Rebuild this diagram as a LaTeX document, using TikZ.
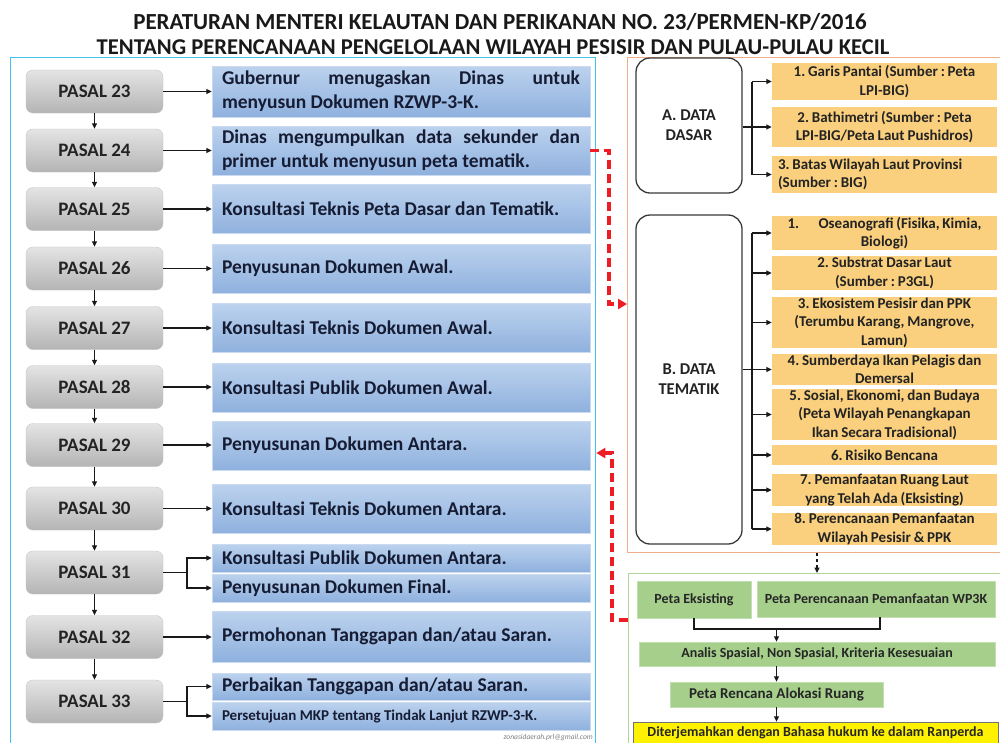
\documentclass[tikz,border=0pt]{standalone}
\usepackage{fontspec}
\setmainfont{Carlito}
\usetikzlibrary{arrows.meta,calc}
\definecolor{pasaltop}{HTML}{E4E4E4}
\definecolor{pasalbot}{HTML}{B4B4B4}
\definecolor{pasaledge}{HTML}{C4C4C4}
\definecolor{bluetop}{HTML}{BCD2EE}
\definecolor{bluebot}{HTML}{8FB1DE}
\definecolor{blueedge}{HTML}{CADAF0}
\definecolor{navy}{HTML}{161C33}
\definecolor{textdark}{HTML}{232323}
\definecolor{orangefill}{HTML}{FAD07E}
\definecolor{greenfill}{HTML}{A6CF8C}
\definecolor{greenedge}{HTML}{C3DFB0}
\definecolor{cyanframe}{HTML}{45C0EE}
\definecolor{salmonframe}{HTML}{F2AE8A}
\definecolor{greenframe}{HTML}{B3D599}
\definecolor{redline}{HTML}{EE1C24}
\definecolor{databorder}{HTML}{3A3A3A}
\frenchspacing
\begin{document}
\begin{tikzpicture}[x=1pt,y=-1pt,
  arr/.style={draw=black!90, line width=1.1pt, -{Triangle[length=5.5pt,width=5pt]}},
  plain/.style={draw=black!90, line width=1.1pt},
  pasal/.style={rounded corners=7pt, draw=pasaledge, top color=pasaltop, bottom color=pasalbot,
    minimum width=137pt, minimum height=43pt, inner sep=0pt, text=textdark,
    font=\bfseries\fontsize{19}{22}\selectfont},
  bluebox/.style={draw=blueedge, top color=bluetop, bottom color=bluebot,
    minimum width=378pt, text width=358pt, inner xsep=10pt, inner ysep=0pt,
    minimum height=49pt, align=justify, text=navy,
    font=\bfseries\fontsize{19.5}{24}\selectfont},
  bluesmall/.style={bluebox, minimum height=28pt},
  obox/.style={fill=orangefill, minimum width=225pt, text width=219pt, inner xsep=3pt,
    inner ysep=0.5pt, align=center, text=textdark,
    font=\bfseries\fontsize{15}{18.5}\selectfont,
    execute at begin node={\spaceskip=0.19em\relax}},
  databox/.style={draw=databorder, line width=1.3pt, rounded corners=14pt, fill=white,
    minimum width=106pt, align=center, text=textdark, inner sep=0pt,
    font=\bfseries\fontsize{16.5}{20}\selectfont},
  gbox/.style={fill=greenfill, draw=greenedge, inner sep=0pt, text=black!85,
    font=\bfseries\fontsize{14}{16}\selectfont},
  frame/.style={line width=1.3pt, anchor=north west, inner sep=0pt},
  reddash/.style={draw=redline, line width=3.4pt, dash pattern=on 9pt off 5pt,
    -{Triangle[length=9pt,width=10pt]}},
  titlestyle/.style={font=\bfseries\fontsize{23}{26}\selectfont, text=black!90, inner sep=0pt}
]
\useasboundingbox (0,0) rectangle (1000,742);
\fill[white] (0,0) rectangle (1000,742);

% titles
\node[titlestyle] (t1) at (500,22) {PERATURAN MENTERI KELAUTAN DAN PERIKANAN NO. 23/PERMEN-KP/2016};
\node[titlestyle, font=\bfseries\fontsize{22.6}{26}\selectfont] (t2) at (493,47) {TENTANG PERENCANAAN PENGELOLAAN WILAYAH PESISIR DAN PULAU-PULAU KECIL};

% frames
\node[frame, draw=cyanframe, minimum width=585pt, minimum height=692pt] (lf) at (10,57) {};
\node[frame, draw=salmonframe, minimum width=380pt, minimum height=495pt] (of) at (627,57) {};
\node[frame, draw=greenframe, minimum width=380pt, minimum height=175pt] (gf) at (628,573) {};

% PASAL boxes
\node[pasal] (p23) at (94.5,91.5) {PASAL 23};
\node[pasal] (p24) at (94.5,150.5) {PASAL 24};
\node[pasal] (p25) at (94.5,209) {PASAL 25};
\node[pasal] (p26) at (94.5,268.5) {PASAL 26};
\node[pasal] (p27) at (94.5,328) {PASAL 27};
\node[pasal] (p28) at (94.5,387) {PASAL 28};
\node[pasal] (p29) at (94.5,445) {PASAL 29};
\node[pasal] (p30) at (94.5,508.5) {PASAL 30};
\node[pasal] (p31) at (94.5,572.5) {PASAL 31};
\node[pasal] (p32) at (94.5,637) {PASAL 32};
\node[pasal] (p33) at (94.5,701.5) {PASAL 33};

% blue boxes
\node[bluebox, minimum height=51pt] (b1) at (401,91.5) {Gubernur menugaskan Dinas untuk\linebreak menyusun Dokumen RZWP-3-K.};
\node[bluebox] (b2) at (401,150.5) {Dinas mengumpulkan data sekunder dan\linebreak primer untuk menyusun peta tematik.};
\node[bluebox] (b3) at (401,209) {Konsultasi Teknis Peta Dasar dan Tematik.};
\node[bluebox] (b4) at (401,268.5) {Penyusunan Dokumen Awal.};
\node[bluebox] (b5) at (401,328) {Konsultasi Teknis Dokumen Awal.};
\node[bluebox] (b6) at (401,387.5) {Konsultasi Publik Dokumen Awal.};
\node[bluebox] (b7) at (401,445.5) {Penyusunan Dokumen Antara.};
\node[bluebox] (b8) at (401,508.5) {Konsultasi Teknis Dokumen Antara.};
\node[bluesmall] (b9a) at (401,558) {Konsultasi Publik Dokumen Antara.};
\node[bluesmall] (b9b) at (401,588) {Penyusunan Dokumen Final.};
\node[bluebox, minimum height=51pt] (b10) at (401,636.5) {Permohonan Tanggapan dan/atau Saran.};
\node[bluesmall, minimum height=27pt] (b11a) at (401,686.5) {Perbaikan Tanggapan dan/atau Saran.};
\node[bluesmall, font=\bfseries\fontsize{15}{18}\selectfont] (b11b) at (401,716) {Persetujuan MKP tentang Tindak Lanjut RZWP-3-K.};

\node[font=\itshape\fontsize{7.5}{8}\selectfont, text=gray, anchor=south east, inner sep=1pt] (wm) at (594,742) {zonasidaerah.prl@gmail.com};

% vertical arrows between PASAL boxes
\foreach \a/\b in {p23/p24,p24/p25,p25/p26,p26/p27,p27/p28,p28/p29,p29/p30,p30/p31,p31/p32,p32/p33}
  \draw[arr] (\a.south) -- (\b.north);

% horizontal arrows
\foreach \a/\b in {p23/b1,p24/b2,p25/b3,p26/b4,p27/b5,p28/b6,p29/b7,p30/b8,p32/b10}
  \draw[arr] (\a.east) -- (\a.east -| \b.west);

\coordinate (fk) at (187,0);
\draw[plain] (p31.east) -- (p31.east -| fk);
\draw[arr] (p31.east -| fk) |- (b9a.west);
\draw[arr] (p31.east -| fk) |- (b9b.west);
\draw[plain] (p33.east) -- (p33.east -| fk);
\draw[arr] (p33.east -| fk) |- (b11a.west);
\draw[arr] (p33.east -| fk) |- (b11b.west);

% DATA boxes
\node[databox, minimum height=135pt] (dd) at (689,125.5) {A. DATA\\DASAR};
\node[databox, minimum height=329pt] (dt) at (689,379.5) {B. DATA\\TEMATIK};

% orange boxes
\node[obox, minimum height=37pt] (d1) at (884.5,81.5) {1. Garis Pantai (Sumber : Peta\\LPI-BIG)};
\node[obox, minimum height=40pt] (d2) at (884.5,127) {2. Bathimetri (Sumber : Peta\\LPI-BIG/Peta Laut Pushidros)};
\node[obox, minimum height=37pt, align=left, text width=213pt, inner xsep=6pt] (d3) at (884.5,174.5) {3. Batas Wilayah Laut Provinsi\\(Sumber : BIG)};

\node[obox, minimum height=32pt] (e1) at (884.5,233) {1.\hspace{1.3em}Oseanografi (Fisika, Kimia,\\Biologi)};
\node[obox, minimum height=34pt] (e2) at (884.5,273) {2. Substrat Dasar Laut\\(Sumber : P3GL)};
\node[obox, minimum height=51pt] (e3) at (884.5,322.5) {3. Ekosistem Pesisir dan PPK\\(Terumbu Karang, Mangrove,\\Lamun)};
\node[obox, minimum height=31pt] (e4) at (884.5,369.5) {4. Sumberdaya Ikan Pelagis dan\\Demersal};
\node[obox, minimum height=51pt] (e5) at (884.5,414.5) {5. Sosial, Ekonomi, dan Budaya\\(Peta Wilayah Penangkapan\\Ikan Secara Tradisional)};
\node[obox, minimum height=20pt] (e6) at (884.5,455) {6. Risiko Bencana};
\node[obox, minimum height=32pt] (e7) at (884.5,490) {7. Pemanfaatan Ruang Laut\\yang Telah Ada (Eksisting)};
\node[obox, minimum height=32pt] (e8) at (884.5,529) {8. Perencanaan Pemanfaatan\\Wilayah Pesisir \& PPK};

% connectors DATA DASAR
\coordinate (tr) at (752,0);
\draw[plain] (d1.west -| tr) -- (d3.west -| tr);
\draw[arr] (d1.west -| tr) -- (d1.west);
\draw[arr] (dd.east |- d2.west) -- (d2.west);
\draw[arr] (d3.west -| tr) -- (d3.west);

% connectors DATA TEMATIK
\draw[plain] (e1.west -| tr) -- (e8.west -| tr);
\foreach \e in {e1,e2,e3,e5,e6,e7,e8}
  \draw[arr] (\e.west -| tr) -- (\e.west);
\draw[arr] (dt.east |- e4.west) -- (e4.west);

% green boxes
\node[gbox, minimum width=114pt, minimum height=37pt] (g1) at (694,599.5) {Peta Eksisting};
\node[gbox, minimum width=238pt, minimum height=36pt] (g2) at (876,599) {Peta Perencanaan Pemanfaatan WP3K};
\node[gbox, minimum width=356pt, minimum height=24pt] (g3) at (817,654) {Analis Spasial, Non Spasial, Kriteria Kesesuaian};
\node[gbox, minimum width=213pt, minimum height=25pt, font=\bfseries\fontsize{15}{17}\selectfont] (g4) at (776.5,694.5) {Peta Rencana Alokasi Ruang};
\node[fill=yellow, draw=black!55, minimum width=365pt, minimum height=22pt, inner sep=0pt, text=black!85,
  font=\bfseries\fontsize{14}{16}\selectfont] (yb) at (815.5,733) {Diterjemahkan dengan Bahasa hukum ke dalam Ranperda};

\coordinate (jn) at (776.5,629);
\draw[plain] (g1.south) |- (jn) -| ([xshift=4pt]g2.south);
\draw[arr] (jn) -- (jn |- g3.north);
\draw[arr] (g4.north |- g3.south) -- (g4.north);
\draw[arr] (g4.south) -- (g4.south |- yb.north);

% dashed black arrow between frames
\coordinate (xm) at (817,0);
\draw[arr, dashed] (of.south -| xm) -- (gf.north -| xm);

% red dashed connectors
\coordinate (r1) at (609,304);
\draw[reddash] (b2.east) -| (r1) -- (r1 -| of.west);
\coordinate (r2) at (612,620);
\coordinate (r2t) at (0,453);
\draw[reddash] (gf.west |- r2) -- (r2) |- (lf.east |- r2t);
\end{tikzpicture}
\end{document}
